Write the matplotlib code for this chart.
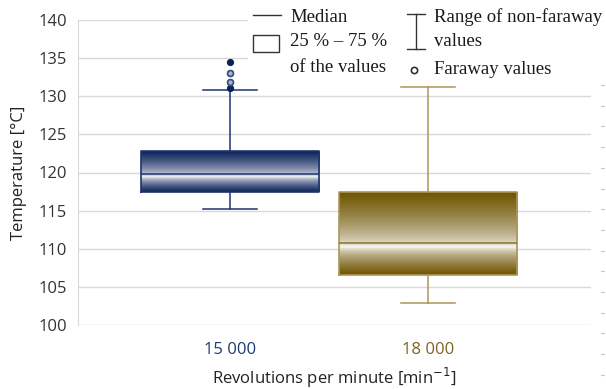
import numpy as np
import matplotlib.pyplot as plt
from matplotlib.colors import to_rgb
from matplotlib.patches import Rectangle
from matplotlib.lines import Line2D

# rpm groups and the box statistics read for each (temperature in degC)
rpm_labels = ["15 000", "18 000"]
medians = [119.75, 110.7]
q1 = [117.5, 106.55]
q3 = [122.85, 117.4]
whisker_lo = [115.2, 102.9]
whisker_hi = [130.8, 131.25]
fliers = [[134.5, 133.0, 131.9, 131.1], []]

dark = ["#0b2259", "#6e5400"]
edge = ["#1c3470", "#ad9658"]
med_col = ["#1c3470", "#8c722c"]
label_col = ["#1f3a6e", "#7d6424"]

W, H = 606, 389
fig = plt.figure(figsize=(W / 100, H / 100), dpi=100)
ax = fig.add_axes([78 / W, 1 - 325 / H, (591 - 78) / W, (325 - 20) / H])

pos = np.arange(len(rpm_labels))
width = 0.9

stats = []
for i in range(len(rpm_labels)):
    stats.append(dict(med=medians[i], q1=q1[i], q3=q3[i],
                      whislo=whisker_lo[i], whishi=whisker_hi[i],
                      fliers=fliers[i], label=rpm_labels[i]))

for i, s in enumerate(stats):
    # vertical gradient: dark at the box edges, white just under the median
    ys = np.linspace(s["q1"], s["q3"], 300)
    light = s["med"] - 0.12 * (s["med"] - s["q1"])
    t = np.where(ys >= light,
                 (ys - light) / (s["q3"] - light),
                 (light - ys) / (light - s["q1"]))
    f = np.clip(t, 0, 1) ** 0.6
    c = np.array(to_rgb(dark[i]))
    img = (1 - f)[:, None] * np.ones(3) * 0.99 + f[:, None] * c
    img = np.repeat(img[:, None, :], 2, axis=1)
    ax.imshow(img, origin="lower", aspect="auto", interpolation="bilinear",
              extent=(pos[i] - width / 2, pos[i] + width / 2, s["q1"], s["q3"]),
              zorder=2)

    ax.bxp([s], positions=[pos[i]], widths=width, showfliers=True,
           boxprops=dict(color=edge[i], linewidth=1.2),
           whiskerprops=dict(color=edge[i], linewidth=1.1),
           capprops=dict(color=edge[i], linewidth=1.1),
           medianprops=dict(color=med_col[i], linewidth=1.1),
           flierprops=dict(marker="o", markersize=4.2, markerfacecolor=dark[i],
                           markeredgecolor=dark[i]),
           capwidths=0.27, zorder=3)

# the two middle outliers are drawn as lighter rings
for y in fliers[0][1:3]:
    ax.plot(pos[0], y, "o", ms=4.2, mfc="#a9b3c8", mec="#3b5187", mew=1.2, zorder=4)

ax.set_xlim(-0.768, 1.823)
ax.set_ylim(100, 140)
ax.set_yticks(np.arange(100, 141, 5))
ax.set_xticks(pos)
ax.set_xticklabels(rpm_labels)

ax.grid(axis="y", color="#d9d9d9", linewidth=1.0, zorder=0)
ax.set_axisbelow(True)
for side in ["top", "right", "bottom"]:
    ax.spines[side].set_visible(False)
ax.spines["left"].set_color("#d9d9d9")
ax.tick_params(length=0, labelsize=12, labelcolor="#333333", pad=8,
               labelfontfamily="Open Sans")
ax.tick_params(axis="x", pad=12)
for lab, col in zip(ax.get_xticklabels(), label_col):
    lab.set_color(col)

ax.set_ylabel("Temperature [°C]", fontsize=12, family="Open Sans", color="#222222",
              labelpad=8)
ax.text(0.5, -0.172, "Revolutions per minute [min$^{-1}$]", transform=ax.transAxes,
        ha="center", va="center", fontsize=12, family="Open Sans", color="#222222")


# legend, placed in pixel coordinates of the figure
def fx(x):
    return x / W


def fy(y):
    return 1 - y / H


fig.add_artist(Rectangle((fx(248), fy(81)), fx(591) - fx(248), fy(20) - fy(81) + 0.01,
                         transform=fig.transFigure, facecolor="white",
                         edgecolor="none", zorder=5))
serif = dict(family="Liberation Serif", fontsize=13.5, color="#1a1a1a",
             va="center", ha="left", zorder=6)
ink = "#333333"
fig.add_artist(Line2D([fx(253), fx(281)], [fy(15), fy(15)], color=ink, lw=1.0, zorder=6))
fig.text(fx(290), fy(17), "Median", **serif)
fig.add_artist(Rectangle((fx(253), fy(52)), fx(279) - fx(253), fy(35) - fy(52),
                         transform=fig.transFigure, facecolor="white",
                         edgecolor=ink, lw=1.0, zorder=6))
fig.text(fx(290), fy(42), "25 % – 75 %", **serif)
fig.text(fx(290), fy(67), "of the values", **serif)

fig.add_artist(Line2D([fx(416), fx(416)], [fy(14), fy(49)], color=ink, lw=1.0, zorder=6))
fig.add_artist(Line2D([fx(407), fx(425)], [fy(14), fy(14)], color=ink, lw=1.0, zorder=6))
fig.add_artist(Line2D([fx(407), fx(425)], [fy(49), fy(49)], color=ink, lw=1.0, zorder=6))
fig.text(fx(434), fy(17), "Range of non-faraway", **serif)
fig.text(fx(434), fy(42), "values", **serif)
fig.add_artist(Line2D([fx(414)], [fy(70)], marker="o", ms=4.5, mfc="white",
                      mec=ink, mew=1.2, zorder=6))
fig.text(fx(434), fy(69), "Faraway values", **serif)

# faint tick marks along the right edge
yy = 85 + 20.7 * np.arange(15)
for y in yy:
    fig.add_artist(Line2D([fx(601), fx(604)], [fy(y), fy(y)], color="#c8c8c8", lw=0.8))

fig.savefig("out.png", dpi=100)
